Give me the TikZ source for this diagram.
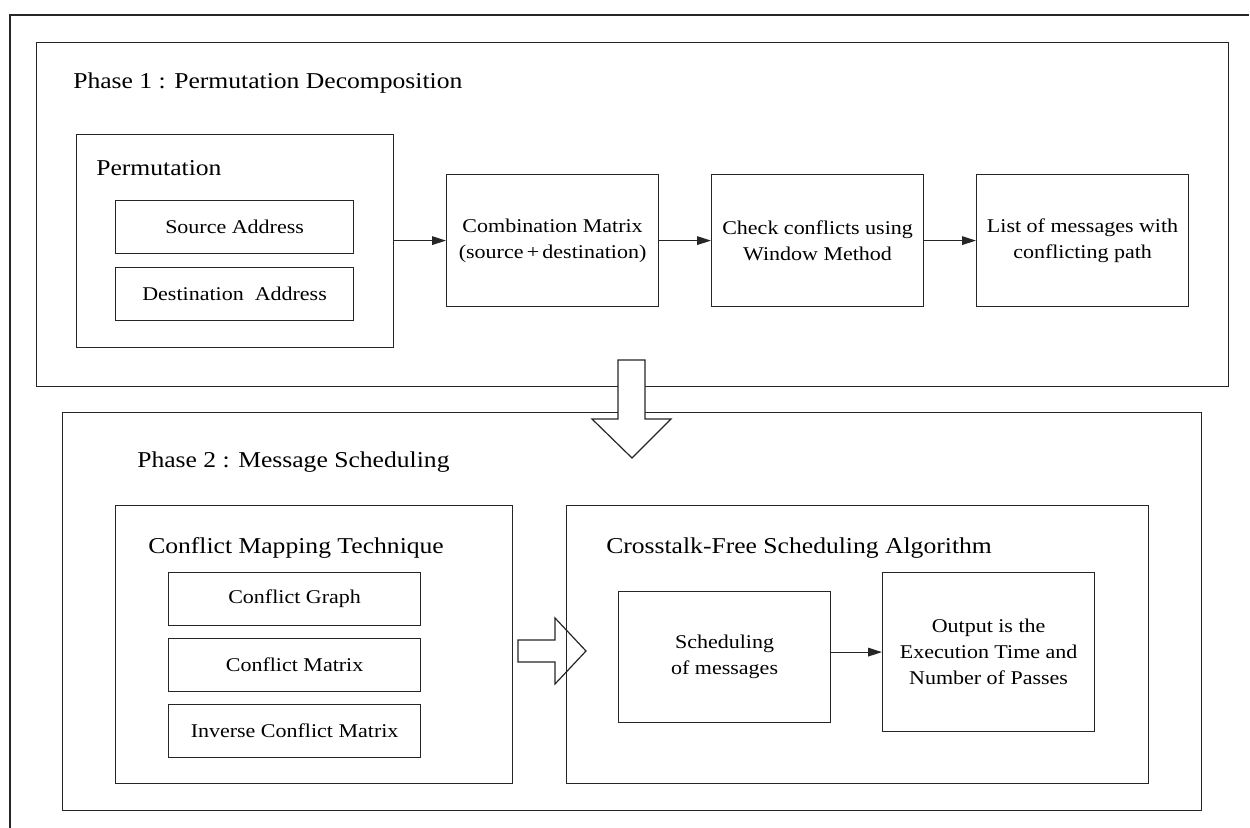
\documentclass[tikz,border=0pt]{standalone}
\usepackage{fontspec}
\setmainfont{Liberation Serif}[FakeStretch=1.13]
\usetikzlibrary{arrows.meta}
\tikzset{
  ln/.style={draw=black!85, line width=0.9pt},
  bx/.style={ln, rectangle, inner sep=0pt, fill=white},
  inner/.style={font=\fontsize{14.6pt}{19.5pt}\selectfont, align=center},
  ttl/.style={font=\fontsize{17pt}{20pt}\selectfont, anchor=base west, inner sep=0pt},
  conn/.style={ln, -{Triangle[length=10.5pt,width=6.5pt]}},
  blk/.style={ln, fill=white, line join=miter}
}
\begin{document}
\begin{tikzpicture}[x=0.75pt,y=-0.75pt]
\useasboundingbox (0,0) rectangle (1250,828);
% outer frame (runs off the right and bottom edges)
\draw[ln] (1249,15) coordinate (ofr) -- (10,15) coordinate (ofl) -- (10,840) coordinate (ofb);
% phase boxes
\node[bx, minimum width=1192*0.75pt, minimum height=344*0.75pt, anchor=north west] (ph1) at (36,42) {};
\node[bx, minimum width=1139*0.75pt, minimum height=398*0.75pt, anchor=north west] (ph2) at (62,412) {};
\node[ttl] (ph1t) at (73,88) {Phase 1 : Permutation Decomposition};
\node[ttl] (ph2t) at (137,467) {Phase 2 : Message Scheduling};
% phase 1 contents
\node[bx, minimum width=317*0.75pt, minimum height=213*0.75pt, anchor=north west] (perm) at (76,134) {};
\node[ttl] (permt) at (96,175) {Permutation};
\node[bx, inner, minimum width=238*0.75pt, minimum height=53*0.75pt, anchor=north west] (src) at (115,200) {Source Address};
\node[bx, inner, minimum width=238*0.75pt, minimum height=53*0.75pt, anchor=north west] (dst) at (115,267) {Destination~~Address};
\node[bx, inner, minimum width=212*0.75pt, minimum height=132*0.75pt, anchor=north west] (comb) at (446,174) {Combination Matrix\\(source\,+\,destination)};
\node[bx, inner, minimum width=212*0.75pt, minimum height=132*0.75pt, anchor=north west] (chk) at (711,174) {Check conflicts using\\Window Method};
\node[bx, inner, minimum width=212*0.75pt, minimum height=132*0.75pt, anchor=north west] (lst) at (976,174) {List of messages with\\conflicting path};
\draw[conn] (perm.east |- comb.west) -- (comb.west);
\draw[conn] (comb.east) -- (chk.west);
\draw[conn] (chk.east) -- (lst.west);
% phase 2 contents
\node[bx, minimum width=397*0.75pt, minimum height=278*0.75pt, anchor=north west] (cmt) at (115,505) {};
\node[ttl] (cmtt) at (148,553) {Conflict Mapping Technique};
\node[bx, inner, minimum width=252*0.75pt, minimum height=53*0.75pt, anchor=north west] (cg) at (168,572) {Conflict Graph};
\node[bx, inner, minimum width=252*0.75pt, minimum height=53*0.75pt, anchor=north west] (cm) at (168,638) {Conflict Matrix};
\node[bx, inner, minimum width=252*0.75pt, minimum height=53*0.75pt, anchor=north west] (icm) at (168,704) {Inverse Conflict Matrix};
\node[bx, minimum width=582*0.75pt, minimum height=278*0.75pt, anchor=north west] (cfs) at (566,505) {};
\node[ttl] (cfst) at (606,553) {Crosstalk-Free Scheduling Algorithm};
\node[bx, inner, minimum width=212*0.75pt, minimum height=131*0.75pt, anchor=north west] (sch) at (618,591) {Scheduling\\of messages};
\node[bx, inner, minimum width=212*0.75pt, minimum height=159*0.75pt, anchor=north west] (out) at (882,572) {Output is the\\Execution Time and\\Number of Passes};
\draw[conn] (sch.east |- out.west) -- (out.west);
% block arrow down between phases
\draw[blk] (618,360) coordinate (da1) -- (645,360) -- (645,419) -- (671,419) -- (632,458) coordinate (datip) -- (592,419) -- (618,419) -- cycle;
% block arrow right between boxes
\draw[ln, line join=miter] (518,640) coordinate (ra1) -- (555,640) -- (555,618) -- (586,651) coordinate (ratip) -- (555,684) -- (555,662) -- (518,662) -- cycle;
\end{tikzpicture}
\end{document}
